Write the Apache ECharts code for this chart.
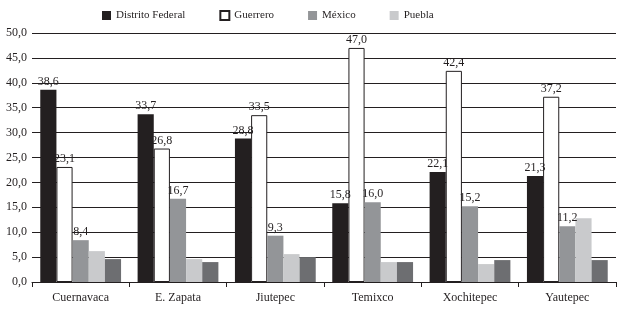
<!DOCTYPE html>
<html>
<head>
<meta charset="utf-8">
<script src="https://cdn.jsdelivr.net/npm/echarts@6/dist/echarts.min.js"></script>
<style>
  html, body { margin: 0; padding: 0; background: #fff; }
</style>
</head>
<body>
<div id="chart" style="width: 619px;height: 310px;"></div>
<script>
  // municipios
  var categories = ['Cuernavaca', 'E. Zapata', 'Jiutepec', 'Temixco', 'Xochitepec', 'Yautepec']
  var distritoFederal = [38.6, 33.7, 28.8, 15.8, 22.1, 21.3]
  var guerrero = [23.1, 26.8, 33.5, 47.0, 42.4, 37.2]
  var mexico = [8.4, 16.7, 9.3, 16.0, 15.2, 11.2]
  var puebla = [6.2, 4.6, 5.6, 4.0, 3.6, 12.8]
  var otros = [4.6, 4.0, 5.0, 4.0, 4.4, 4.4]
  var yTicks = [0, 5, 10, 15, 20, 25, 30, 35, 40, 45, 50]

  var font = '"Liberation Serif", "DejaVu Serif", serif'
  var fmt = function (v) { return Number(v).toFixed(1).replace('.', ',') }

  var charts = echarts.init(document.getElementById('chart'))
  var labelTop = {
    show: true,
    position: 'top',
    distance: 2,
    color: '#231f20',
    fontFamily: font,
    fontSize: 12,
    formatter: function (p) { return fmt(p.value) }
  }
  var option = {
    animation: false,
    legend: {
      data: ['Distrito Federal', 'Guerrero', 'México', 'Puebla'],
      top: 5,
      left: 97,
      itemWidth: 9,
      itemHeight: 9,
      itemGap: 34,
      icon: 'rect',
      textStyle: {
        fontFamily: font,
        fontSize: 11,
        color: '#231f20'
      }
    },
    grid: {
      left: 32,
      right: 3,
      top: 33,
      bottom: 28
    },
    xAxis: {
      type: 'category',
      data: categories,
      axisLine: { lineStyle: { color: '#231f20', width: 1 } },
      axisTick: { show: true, length: 5, lineStyle: { color: '#231f20' } },
      axisLabel: {
        color: '#231f20',
        fontFamily: font,
        fontSize: 12,
        margin: 10
      }
    },
    yAxis: {
      type: 'value',
      min: yTicks[0],
      max: yTicks[yTicks.length - 1],
      interval: 5,
      axisLine: { show: false },
      axisTick: { show: false },
      axisLabel: {
        color: '#231f20',
        fontFamily: font,
        fontSize: 12,
        margin: 5,
        formatter: fmt
      },
      splitLine: { lineStyle: { color: '#231f20', width: 1 } }
    },
    series: [
      {
        name: 'Distrito Federal',
        type: 'bar',
        barGap: '0%',
        barCategoryGap: '17%',
        itemStyle: { color: '#231f20' },
        label: labelTop,
        data: distritoFederal
      },
      {
        name: 'Guerrero',
        type: 'bar',
        itemStyle: { color: '#ffffff', borderColor: '#231f20', borderWidth: 1 },
        label: labelTop,
        data: guerrero
      },
      {
        name: 'México',
        type: 'bar',
        itemStyle: { color: '#939598' },
        label: labelTop,
        data: mexico
      },
      {
        name: 'Puebla',
        type: 'bar',
        itemStyle: { color: '#c9cacc' },
        data: puebla
      },
      {
        name: 'Otros',
        type: 'bar',
        itemStyle: { color: '#6d6e71' },
        data: otros
      }
    ]
  }
  charts.setOption(option)
</script>
</body>
</html>
